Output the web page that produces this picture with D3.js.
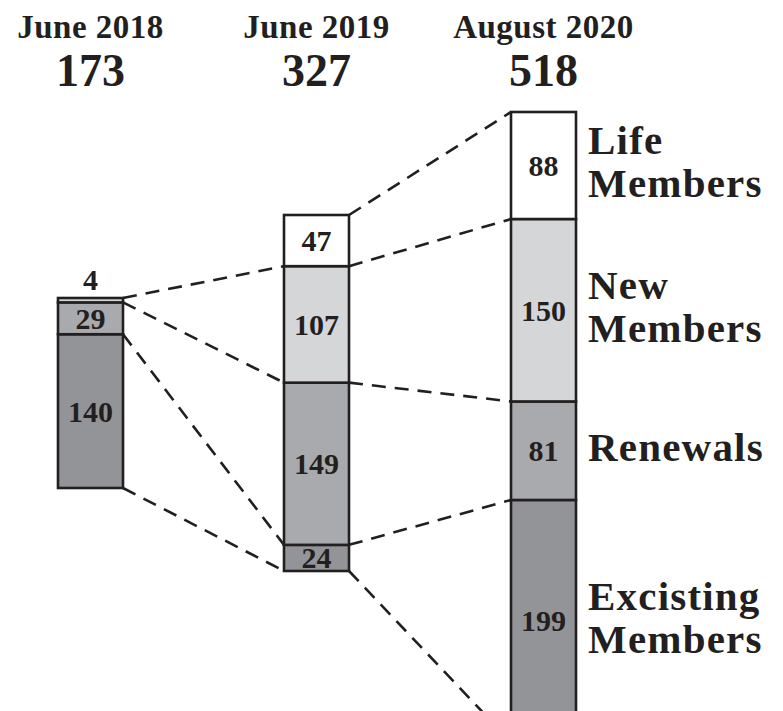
<!DOCTYPE html>
<html>
<head>
<meta charset="utf-8">
<script src="https://cdn.jsdelivr.net/npm/d3@7"></script>
<style>
  body { margin: 0; background: #fff; }
  svg { display: block; font-family: "Liberation Serif", "DejaVu Serif", serif; }
</style>
</head>
<body>
<div id="container"></div>
<script>
/* DATA */
const periods = ["June 2018", "June 2019", "August 2020"];
const totals = [173, 327, 518];
// segments bottom -> top : existing, renewals, new, life
const categories = ["Existing", "Renewals", "New", "Life"];
const june2018 = [140, 29, 4, 0];
const june2019 = [24, 149, 107, 47];
const august2020 = [199, 81, 150, 88];
const rightLabels = [["Excisting", "Members"], ["Renewals"], ["New", "Members"], ["Life", "Members"]];
// dashed links: [cumulative value on left bar, cumulative value on right bar]
const links2018to2019 = [[173, 280], [169, 173], [140, 24], [0, 0]];
const links2019to2020 = [[327, 518], [280, 430], [173, 280], [24, 199], [0, 0]];

/* CONSTANTS */
const width = 783, height = 711;
const colors = ["#939497", "#a9aaad", "#d5d6d8", "#ffffff"];
const barW = 65;
const barX = d3.scaleOrdinal().domain(periods).range([58, 284, 511]);
const barTop = [298, 215, 112];
const barBottom = [488, 571, 742];

const svg = d3.select("#container")
  .append("svg")
  .attr("width", width)
  .attr("height", height);

const allSeries = [june2018, june2019, august2020];

// one scale per column, each column drawn to its own height
const yScales = periods.map((p, i) => d3.scaleLinear()
  .domain([0, totals[i]])
  .range([barBottom[i], barTop[i]]));

/* DASHED LINKS (drawn first) */
const linkSets = [links2018to2019, links2019to2020];
linkSets.forEach((links, i) => {
  svg.selectAll("line.link" + i)
    .data(links)
    .join("line")
    .attr("class", "link" + i)
    .attr("x1", barX(periods[i]) + barW)
    .attr("y1", d => yScales[i](d[0]))
    .attr("x2", barX(periods[i + 1]))
    .attr("y2", d => yScales[i + 1](d[1]))
    .attr("stroke", "#231f20")
    .attr("stroke-width", 2.6)
    .attr("stroke-dasharray", "14,9");
});

/* BARS */
allSeries.forEach((vals, i) => {
  const y = yScales[i];
  let cum = 0;
  const segs = vals.map((v, k) => {
    const s = { v, k, y0: cum, y1: cum + v };
    cum += v;
    return s;
  }).filter(s => s.v > 0);

  const g = svg.append("g");
  g.selectAll("rect")
    .data(segs)
    .join("rect")
    .attr("x", barX(periods[i]))
    .attr("width", barW)
    .attr("y", d => y(d.y1))
    .attr("height", d => y(d.y0) - y(d.y1))
    .attr("fill", d => colors[d.k])
    .attr("stroke", "#231f20")
    .attr("stroke-width", 2.6);

  g.selectAll("text")
    .data(segs)
    .join("text")
    .attr("x", barX(periods[i]) + barW / 2)
    .attr("y", d => d.v < 10 ? y(d.y1) - 8 : (y(d.y0) + y(d.y1)) / 2)
    .attr("dy", d => d.v < 10 ? 0 : "0.35em")
    .attr("text-anchor", "middle")
    .attr("font-size", 30)
    .attr("font-weight", "bold")
    .attr("fill", "#231f20")
    .text(d => d.v);

  // header
  svg.append("text")
    .attr("x", barX(periods[i]) + barW / 2)
    .attr("y", 38)
    .attr("text-anchor", "middle")
    .attr("font-size", 33)
    .attr("font-weight", "bold")
    .attr("letter-spacing", 0.5)
    .attr("fill", "#231f20")
    .text(periods[i]);
  svg.append("text")
    .attr("x", barX(periods[i]) + barW / 2)
    .attr("y", 86)
    .attr("text-anchor", "middle")
    .attr("font-size", 46)
    .attr("font-weight", "bold")
    .attr("fill", "#231f20")
    .text(totals[i]);
});

/* RIGHT LABELS next to the last column */
const yLast = yScales[2];
let cumLast = 0;
august2020.forEach((v, k) => {
  const mid = yLast(cumLast + v / 2) - 4;
  cumLast += v;
  const lines = rightLabels[k];
  lines.forEach((ln, j) => {
    svg.append("text")
      .attr("x", 588)
      .attr("y", mid + (j - (lines.length - 1) / 2) * 43)
      .attr("dy", "0.35em")
      .attr("font-size", 41)
      .attr("font-weight", "bold")
      .attr("letter-spacing", 1.2)
      .attr("fill", "#231f20")
      .text(ln);
  });
});
</script>
</body>
</html>
